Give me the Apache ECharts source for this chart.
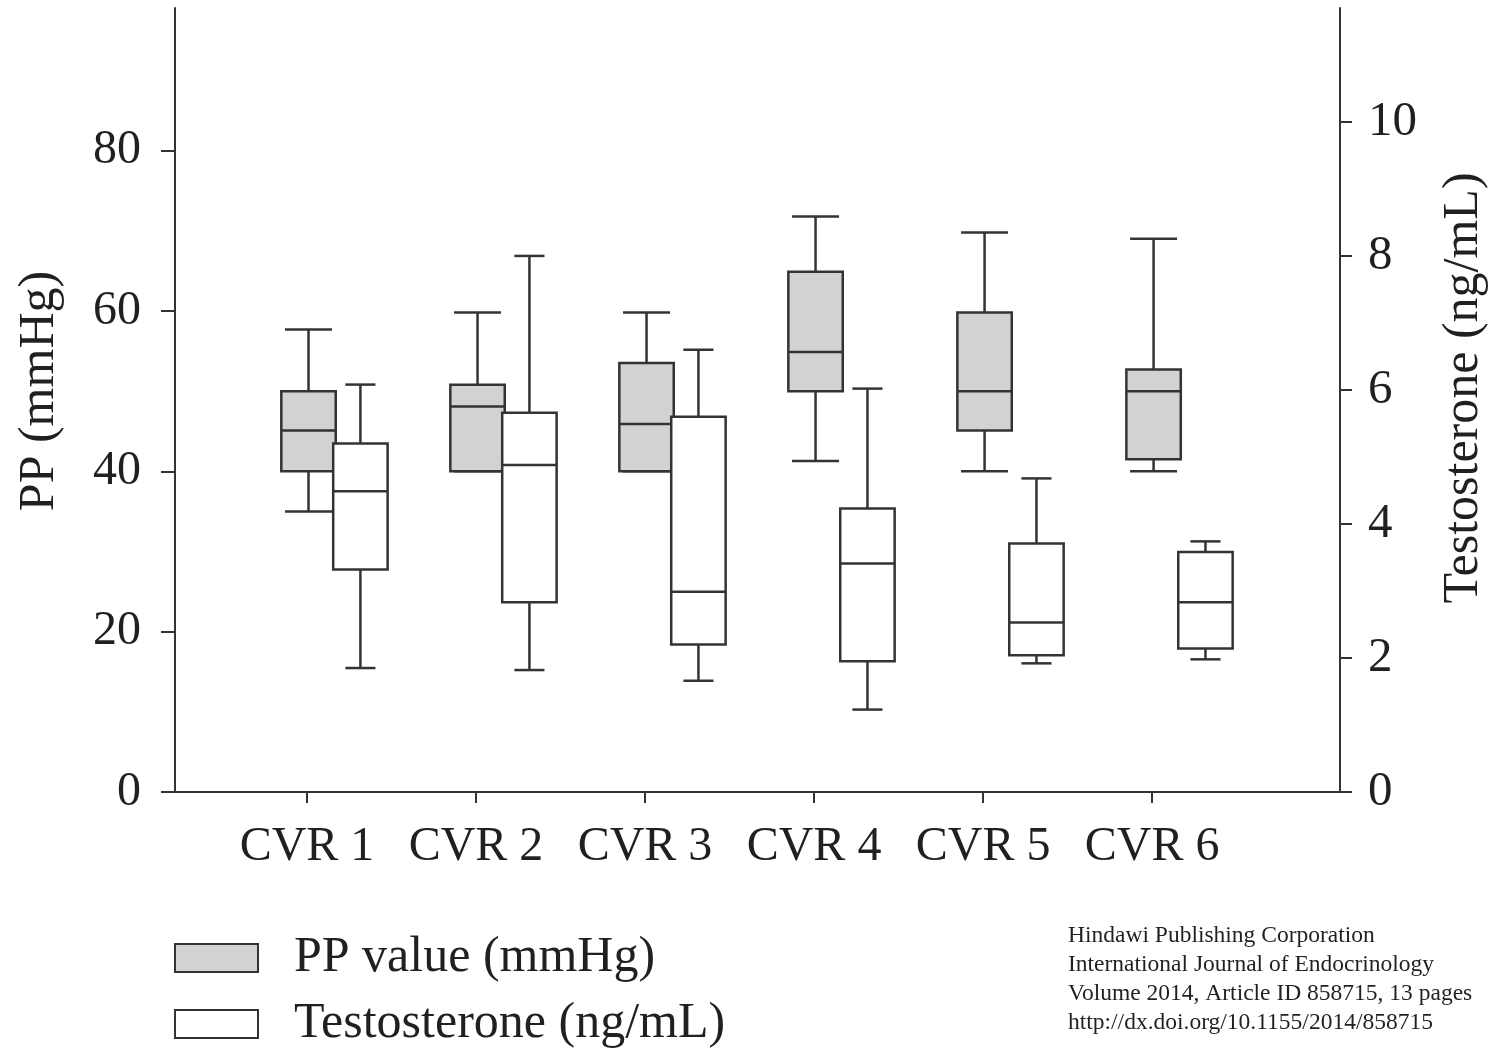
<!DOCTYPE html>
<html><head><meta charset="utf-8">
<script src="https://cdn.jsdelivr.net/npm/echarts@6/dist/echarts.min.js"></script>
<style>html,body{margin:0;padding:0;background:#fff}#c{width:1501px;height:1052px}</style>
</head><body><div id="c"></div>
<script>
const categories = ['CVR 1', 'CVR 2', 'CVR 3', 'CVR 4', 'CVR 5', 'CVR 6'];
// each row: [min, Q1, median, Q3, max]
const ppValues = [
  [35.0, 40.0, 45.1, 50.0, 57.7],
  [40.0, 40.0, 48.1, 50.8, 59.8],
  [40.0, 40.0, 45.9, 53.5, 59.8],
  [41.3, 50.0, 54.9, 64.9, 71.8],
  [40.0, 45.1, 50.0, 59.8, 69.8],
  [40.0, 41.5, 50.0, 52.7, 69.0]
];
const testosteroneValues = [
  [1.85, 3.32, 4.49, 5.20, 6.08],
  [1.82, 2.83, 4.88, 5.66, 8.00],
  [1.66, 2.20, 2.99, 5.60, 6.60],
  [1.23, 1.95, 3.41, 4.23, 6.02],
  [1.92, 2.04, 2.53, 3.71, 4.68],
  [1.98, 2.14, 2.83, 3.58, 3.74]
];
const ppTicks = [0, 20, 40, 60, 80];
const tTicks = [0, 2, 4, 6, 8, 10];
const categoryPositions = [1, 2, 3, 4, 5, 6];
const seriesNames = ['PP value (mmHg)', 'Testosterone (ng/mL)'];
const axisTitles = ['PP (mmHg)', 'Testosterone (ng/mL)'];
const citation = [
  'Hindawi Publishing Corporation',
  'International Journal of Endocrinology',
  'Volume 2014, Article ID 858715, 13 pages',
  'http://dx.doi.org/10.1155/2014/858715'
];

const FONT = '"Liberation Serif", "Times New Roman", serif';
const INK = '#333333';
const TXT = '#231f20';
const GREY = '#d2d2d0';

function boxRenderer(offset, boxW, capW, fill) {
  return function (params, api) {
    const x = api.value(0) + offset;
    const pMin = api.coord([x, api.value(1)]);
    const pQ1 = api.coord([x, api.value(2)]);
    const pMed = api.coord([x, api.value(3)]);
    const pQ3 = api.coord([x, api.value(4)]);
    const pMax = api.coord([x, api.value(5)]);
    const half = api.size([boxW, 0])[0] / 2;
    const cap = api.size([capW, 0])[0] / 2;
    const cx = pMin[0];
    const st = { stroke: INK, lineWidth: 2.5 };
    return {
      type: 'group',
      children: [
        { type: 'line', shape: { x1: cx, y1: pMax[1], x2: cx, y2: pQ3[1] }, style: st },
        { type: 'line', shape: { x1: cx - cap, y1: pMax[1], x2: cx + cap, y2: pMax[1] }, style: st },
        { type: 'line', shape: { x1: cx, y1: pQ1[1], x2: cx, y2: pMin[1] }, style: st },
        { type: 'line', shape: { x1: cx - cap, y1: pMin[1], x2: cx + cap, y2: pMin[1] }, style: st },
        { type: 'rect', shape: { x: cx - half, y: pQ3[1], width: half * 2, height: pQ1[1] - pQ3[1] },
          style: { fill: fill, stroke: INK, lineWidth: 2.5 } },
        { type: 'line', shape: { x1: cx - half, y1: pMed[1], x2: cx + half, y2: pMed[1] }, style: st }
      ]
    };
  };
}

const chart = echarts.init(document.getElementById('c'), null, { renderer: 'canvas' });
chart.setOption({
  animation: false,
  backgroundColor: '#fff',
  grid: { left: 175, right: 161, top: 8, bottom: 260, outerBoundsMode: 'none' },
  xAxis: {
    type: 'value', min: 0.219, max: 7.112,
    splitLine: { show: false },
    axisLine: { show: true, lineStyle: { color: INK, width: 2 } },
    axisTick: { show: true, length: 11, customValues: categoryPositions, lineStyle: { color: INK, width: 2 } },
    axisLabel: {
      customValues: categoryPositions, margin: 31,
      formatter: v => categories[Math.round(v) - 1] || '',
      fontFamily: FONT, fontSize: 48, color: TXT
    }
  },
  yAxis: [
    {
      type: 'value', min: 0, max: 97.8, position: 'left',
      splitLine: { show: false },
      axisLine: { show: true, lineStyle: { color: INK, width: 2 } },
      axisTick: { show: true, length: 14, customValues: ppTicks, lineStyle: { color: INK, width: 2 } },
      axisLabel: { customValues: ppTicks, margin: 34, fontFamily: FONT, fontSize: 48, color: TXT }
    },
    {
      type: 'value', min: 0, max: 11.7, position: 'right',
      splitLine: { show: false },
      axisLine: { show: true, lineStyle: { color: INK, width: 2 } },
      axisTick: { show: true, length: 12, customValues: tTicks, lineStyle: { color: INK, width: 2 } },
      axisLabel: { customValues: tTicks, margin: 28, fontFamily: FONT, fontSize: 49, color: TXT }
    }
  ],
  legend: {
    orient: 'vertical', left: 174, top: 933, padding: 0,
    itemWidth: 83, itemHeight: 28, itemGap: 16,
    icon: 'rect',
    textStyle: { fontFamily: FONT, fontSize: 50, color: TXT, lineHeight: 50, padding: [0, 0, 0, 31] },
    data: [
      { name: seriesNames[0], itemStyle: { color: GREY, borderColor: INK, borderWidth: 2 } },
      { name: seriesNames[1], itemStyle: { color: '#fff', borderColor: INK, borderWidth: 2 } }
    ]
  },
  series: [
    {
      name: seriesNames[0], type: 'custom', xAxisIndex: 0, yAxisIndex: 0,
      itemStyle: { color: GREY, borderColor: INK },
      renderItem: boxRenderer(0.009, 0.322, 0.278, GREY),
      encode: { x: 0, y: [1, 2, 3, 4, 5] },
      data: ppValues.map((v, i) => [categoryPositions[i]].concat(v))
    },
    {
      name: seriesNames[1], type: 'custom', xAxisIndex: 0, yAxisIndex: 1,
      itemStyle: { color: '#fff', borderColor: INK },
      renderItem: boxRenderer(0.316, 0.322, 0.178, '#fff'),
      encode: { x: 0, y: [1, 2, 3, 4, 5] },
      data: testosteroneValues.map((v, i) => [categoryPositions[i]].concat(v))
    }
  ],
  graphic: [
    { type: 'text', x: 40, y: 391, rotation: Math.PI / 2,
      style: { text: axisTitles[0], font: '50px ' + FONT, fill: TXT, textAlign: 'center', textVerticalAlign: 'middle' } },
    { type: 'text', x: 1464, y: 388, rotation: Math.PI / 2,
      style: { text: axisTitles[1], font: '50px ' + FONT, fill: TXT, textAlign: 'center', textVerticalAlign: 'middle' } },
    { type: 'text', x: 1068, y: 921,
      style: { text: citation.join('\n'), font: '23.5px ' + FONT, fill: TXT, lineHeight: 29, textAlign: 'left', textVerticalAlign: 'top' } }
  ]
});
</script>
</body></html>
